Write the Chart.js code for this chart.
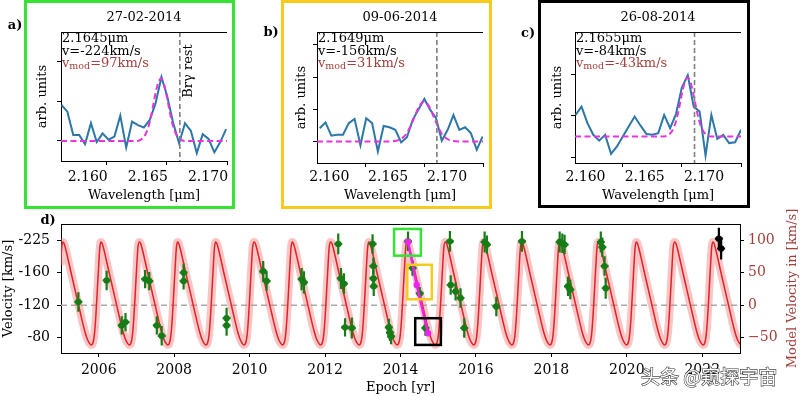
<!DOCTYPE html>
<html>
<head>
<meta charset="utf-8">
<script src="https://cdn.jsdelivr.net/npm/chart.js@4.4.0/dist/chart.umd.min.js"></script>
<style>
  body { margin: 0; background: #fff; }
  #wrap { position: relative; width: 800px; height: 396px; overflow: hidden; background: #fff; }
  #wrap canvas { position: absolute; left: 0; top: 0; }
  .frame { position: absolute; box-sizing: border-box; border: 3px solid; }
  #mark {
    position: absolute; left: 641px; top: 362px;
    font: 19px "Noto Sans CJK SC", sans-serif; color: #fff;
    -webkit-text-stroke: 1.2px #3a3a3a; paint-order: stroke fill; white-space: nowrap;
  }
</style>
</head>
<body>
<div id="wrap">
  <div class="frame" style="left:24px;top:0;width:211px;height:209px;border-color:#34e334"></div>
  <div class="frame" style="left:281px;top:0;width:211px;height:209px;border-color:#f6cb1c"></div>
  <div class="frame" style="left:538px;top:0;width:212px;height:208px;border-color:#000"></div>
  <canvas id="specA" width="800" height="396"></canvas>
  <canvas id="specB" width="800" height="396"></canvas>
  <canvas id="specC" width="800" height="396"></canvas>
  <canvas id="velD" width="800" height="396"></canvas>
  <div id="mark">头条 @窥探宇宙</div>
</div>
<script>
// ---------- spectra (panels a, b, c) ----------
const waveTicks = [2.160, 2.165, 2.170];
const brGamma = 2.16608;

const lamA = [2.15624, 2.15673, 2.15722, 2.15771, 2.15820, 2.15869, 2.15917, 2.15966, 2.16015, 2.16064, 2.16113, 2.16162, 2.16211, 2.16260, 2.16309, 2.16358, 2.16406, 2.16455, 2.16504, 2.16553, 2.16602, 2.16651, 2.16700, 2.16749, 2.16798, 2.16847, 2.16895, 2.16944, 2.16993];
const fluxA = [0.91, 0.74, 0.15, 0.15, -0.08, 0.45, -0.03, 0.19, 0.03, 0.11, 0.64, -0.17, 0.49, 0.40, 0.34, 0.53, 0.95, 1.62, 1.12, 0.45, -0.06, 0.45, 0.25, -0.31, 0.17, 0.05, -0.29, -0.03, 0.30];
const fitLamA = [2.1562, 2.1625, 2.1629, 2.1632, 2.1635, 2.1637, 2.1639, 2.1641, 2.1643, 2.1645, 2.1647, 2.1649, 2.1651, 2.1653, 2.1655, 2.1658, 2.1661, 2.1665, 2.1700];
const fitA = [0, 0, 0.045, 0.15, 0.39, 0.65, 0.96, 1.27, 1.49, 1.58, 1.49, 1.27, 0.96, 0.65, 0.39, 0.15, 0.045, 0, 0];

const lamB = [2.15613, 2.15662, 2.15712, 2.15761, 2.15811, 2.15860, 2.15909, 2.15959, 2.16008, 2.16058, 2.16107, 2.16156, 2.16206, 2.16255, 2.16305, 2.16354, 2.16403, 2.16453, 2.16502, 2.16552, 2.16601, 2.16650, 2.16700, 2.16749, 2.16799, 2.16848, 2.16897, 2.16947, 2.16996];
const fluxB = [0.41, 0.59, 0.18, 0.21, 0.21, 0.57, 0.70, -0.12, 0.72, 0.57, -0.31, 0.48, 0.44, 0.36, -0.03, 0.13, 0.67, 1.00, 1.32, 0.98, 0.72, 0.02, 0.36, 0.82, 0.36, 0.44, 0.26, -0.26, 0.15];
const fitLamB = [2.1559, 2.1620, 2.1626, 2.1631, 2.1635, 2.1638, 2.1641, 2.1644, 2.1647, 2.1650, 2.1653, 2.1656, 2.1659, 2.1662, 2.1665, 2.1669, 2.1674, 2.1680, 2.1700];
const fitB = [0, 0, 0.02, 0.09, 0.24, 0.44, 0.69, 0.955, 1.16, 1.24, 1.16, 0.955, 0.69, 0.44, 0.24, 0.09, 0.02, 0, 0];

const lamC = [2.15605, 2.15655, 2.15705, 2.15754, 2.15804, 2.15854, 2.15904, 2.15954, 2.16003, 2.16053, 2.16103, 2.16153, 2.16203, 2.16252, 2.16302, 2.16352, 2.16402, 2.16452, 2.16501, 2.16551, 2.16601, 2.16651, 2.16701, 2.16750, 2.16800, 2.16850, 2.16900, 2.16950, 2.17000];
const fluxC = [0.52, 0.72, 0.32, 0.04, -0.10, 0.04, -0.42, -0.24, 0.00, 0.24, 0.48, 0.26, 0.06, 0.04, 0.08, 0.52, 0.20, 0.54, 1.18, 1.48, 0.72, 0.60, -0.46, 0.52, -0.06, 0.04, -0.16, -0.14, 0.16];
const fitLamC = [2.1560, 2.1635, 2.1639, 2.1642, 2.1645, 2.1647, 2.1649, 2.1651, 2.1653, 2.1655, 2.1657, 2.1659, 2.1661, 2.1663, 2.1665, 2.1668, 2.1671, 2.1675, 2.1700];
const fitC = [0, 0, 0.04, 0.14, 0.35, 0.58, 0.86, 1.14, 1.34, 1.42, 1.34, 1.14, 0.86, 0.58, 0.35, 0.14, 0.04, 0, 0];

// ---------- velocity curve (panel d) ----------
const epochTicks = [2006, 2008, 2010, 2012, 2014, 2016, 2018, 2020, 2022];
const velTickPos = [-50, 0, 50, 100];
const velTickLabels = ['-80', '-120', '-160', '-225'];
const modelTickLabels = ['\u221250', '0', '50', '100'];

// one orbit of the model, time after maximum [yr] and velocity [km/s]
const cycleDt = [0, 0.03, 0.07, 0.12, 0.20, 0.28, 0.36, 0.44, 0.52, 0.58, 0.64, 0.70, 0.75, 0.79, 0.83, 0.87, 0.91, 0.95, 0.98];
const cycleVel = [97, 95, 87, 75, 54, 34, 14, -6, -26, -40, -51, -58, -61, -59, -48, -20, 20, 62, 89];
const peakEpochs = [2004.04, 2005.05, 2006.06, 2007.08, 2008.09, 2009.10, 2010.12, 2011.13, 2012.15, 2013.16, 2014.17, 2015.19, 2016.20, 2017.21, 2018.23, 2019.24, 2020.25, 2021.27, 2022.28];

const greenEpoch = [2005.46, 2006.21, 2006.61, 2006.71, 2007.23, 2007.34, 2007.54, 2007.67, 2008.25, 2008.25, 2009.39, 2009.39, 2010.36, 2010.45, 2011.38, 2011.44, 2012.35, 2012.42, 2012.50, 2012.53, 2012.71, 2013.26, 2013.28, 2013.28, 2013.29, 2013.69, 2013.72, 2013.75, 2014.20, 2014.32, 2014.51, 2014.66, 2015.31, 2015.33, 2015.46, 2015.59, 2015.69, 2016.23, 2016.29, 2016.54, 2017.22, 2018.22, 2018.29, 2018.35, 2018.44, 2018.50, 2019.31, 2019.35, 2019.41, 2019.44];
const greenVel = [5, 38, -31, -26, 40, 37, -31, -47, 50, 37, -20, -31, 52, 37, 40, 35, 94, 41, 33, -34, -35, 94, 60, 41, 29, -34, -42, -48, 98, 57, 18, -35, 98, 31, 21, 11, -35, 97, 93, -2, 98, 97, 95, 93, 29, 24, 97, 89, 60, 26];
const greenErr = [15, 15, 14, 14, 14, 14, 14, 15, 14, 13, 16, 16, 16, 15, 17, 17, 16, 16, 16, 14, 16, 15, 13, 13, 15, 13, 13, 12, 15, 12, 10, 12, 16, 15, 14, 15, 15, 16, 14, 15, 16, 16, 15, 15, 15, 15, 16, 15, 15, 16];
const blackEpoch = [2022.44, 2022.50];
const blackVel = [102, 87];
const blackErr = [17, 17];
const magEpoch = [2014.20, 2014.43, 2014.73];
const magVel = [97, 31, -43];

// highlight boxes around the three spectra epochs [epoch range, velocity range]
const boxEpochs = [[2013.83, 2014.54], [2014.18, 2014.83], [2014.39, 2015.07]];
const boxVels = [[76, 117], [9, 62], [-61, -20]];
const boxColors = ['#34e334', '#f6cb1c', '#000'];

const serif = '"DejaVu Serif", serif';
const brown = '#a0413c';

function put(ctx, s, x, y, opt = {}) {
  ctx.save();
  ctx.font = opt.font || `13px ${serif}`;
  ctx.fillStyle = opt.color || '#000';
  ctx.textAlign = opt.align || 'center';
  ctx.textBaseline = 'middle';
  ctx.translate(x, y);
  if (opt.rot) ctx.rotate(opt.rot);
  ctx.fillText(s, 0, 0);
  ctx.restore();
}

function vmod(ctx, x, y, rest) {
  ctx.save();
  ctx.fillStyle = brown;
  ctx.textAlign = 'left';
  ctx.textBaseline = 'middle';
  ctx.font = `13px ${serif}`;
  ctx.fillText('v', x, y);
  let w = ctx.measureText('v').width;
  ctx.font = `9.5px ${serif}`;
  ctx.fillText('mod', x + w, y + 3);
  w += ctx.measureText('mod').width;
  ctx.font = `13px ${serif}`;
  ctx.fillText(rest, x + w, y);
  ctx.restore();
}

const axisLine = { display: true, color: '#000', width: 1 };
const tickGrid = { drawOnChartArea: false, drawTicks: true, tickLength: 4, tickColor: '#000' };
const X_AXIS_H = 30;   // room kept under each plot for the tick labels
const Y_AXIS_W = 50;   // room kept beside panel d for its tick labels

function spectrum(id, p) {
  const [L, T, R, B] = p.area;
  return new Chart(document.getElementById(id), {
    type: 'line',
    data: {
      datasets: [
        {
          data: p.fitLam.map((x, i) => ({ x, y: p.fit[i] })),
          borderColor: '#e733e0', borderWidth: 2, borderDash: [6, 3.5],
          pointRadius: 0, cubicInterpolationMode: 'monotone'
        },
        {
          data: p.lam.map((x, i) => ({ x, y: p.flux[i] })),
          borderColor: '#2b77a6', borderWidth: 2, pointRadius: 0, tension: 0
        }
      ]
    },
    options: {
      responsive: false, animation: false, devicePixelRatio: 1,
      layout: { padding: { left: L, top: T, right: 800 - R, bottom: 396 - B - X_AXIS_H } },
      plugins: { legend: { display: false }, tooltip: { enabled: false } },
      scales: {
        x: {
          type: 'linear', min: p.xmin, max: 2.170,
          afterFit: s => { s.height = X_AXIS_H; },
          afterBuildTicks: s => { s.ticks = waveTicks.map(v => ({ value: v })); },
          border: axisLine, grid: tickGrid,
          ticks: {
            color: '#000', font: { family: serif, size: 14 }, padding: p.tickPad,
            labelOffset: p.labelOffset, maxRotation: 0, autoSkip: false,
            callback: v => v.toFixed(3)
          }
        },
        y: {
          type: 'linear', min: p.ymin, max: p.ymax,
          afterFit: s => { s.width = 0; },
          afterBuildTicks: s => { s.ticks = p.yTicks.map(v => ({ value: v })); },
          border: axisLine, grid: tickGrid,
          ticks: { display: false }
        }
      }
    },
    plugins: [{
      id: 'decor',
      afterDatasetsDraw(chart) {
        const { ctx, chartArea: a } = chart;
        const x = chart.scales.x.getPixelForValue(brGamma);
        ctx.save();
        ctx.strokeStyle = '#7f7f7f';
        ctx.lineWidth = 1.6;
        ctx.setLineDash([5, 3]);
        ctx.beginPath();
        ctx.moveTo(x, a.top);
        ctx.lineTo(x, a.bottom);
        ctx.stroke();
        ctx.restore();
      },
      afterDraw(chart) {
        const { ctx, chartArea: a } = chart;
        ctx.save();
        ctx.strokeStyle = '#000';
        ctx.lineWidth = 1;
        ctx.beginPath();
        ctx.moveTo(a.left, a.top + 0.5);
        ctx.lineTo(a.right, a.top + 0.5);
        ctx.stroke();
        ctx.restore();
        const cx = (a.left + a.right) / 2;
        put(ctx, p.title, cx, 18);
        put(ctx, p.letter, p.letterXY[0], p.letterXY[1], { font: `bold 13px ${serif}` });
        put(ctx, 'Wavelength [\u03bcm]', cx, 196);
        put(ctx, 'arb. units', p.ylabelX, (a.top + a.bottom) / 2, { rot: -Math.PI / 2 });
        put(ctx, p.line1, a.left + 1, a.top + 7, { align: 'left' });
        put(ctx, p.line2, a.left + 1, a.top + 20, { align: 'left' });
        vmod(ctx, a.left + 1, a.top + 32, p.line3);
        if (p.restLabel) {
          const x = chart.scales.x.getPixelForValue(brGamma);
          put(ctx, 'Br\u03b3 rest', x + 9, 71, { rot: -Math.PI / 2 });
        }
      }
    }]
  });
}

spectrum('specA', {
  area: [61, 32, 227, 161], xmin: 2.1562, ymin: -0.51, ymax: 2.76, yTicks: [0, 1, 2],
  lam: lamA, flux: fluxA, fitLam: fitLamA, fit: fitA, tickPad: 4, labelOffset: -19,
  title: '27-02-2014', letter: 'a)', letterXY: [15, 26], ylabelX: 43, restLabel: true,
  line1: '2.1645\u03bcm', line2: 'v=-224km/s', line3: '=97km/s'
});
spectrum('specB', {
  area: [317, 32, 483, 163], xmin: 2.1559, ymin: -0.67, ymax: 3.40, yTicks: [0, 1, 2, 3],
  lam: lamB, flux: fluxB, fitLam: fitLamB, fit: fitB, tickPad: 2, labelOffset: -36,
  title: '09-06-2014', letter: 'b)', letterXY: [271, 33], ylabelX: 302, restLabel: false,
  line1: '2.1649\u03bcm', line2: 'v=-156km/s', line3: '=31km/s'
});
spectrum('specC', {
  area: [575, 32, 741, 163], xmin: 2.1560, ymin: -0.64, ymax: 2.52, yTicks: [-0.5, 0.5, 1.5],
  lam: lamC, flux: fluxC, fitLam: fitLamC, fit: fitC, tickPad: 2, labelOffset: -37,
  title: '26-08-2014', letter: 'c)', letterXY: [528, 34], ylabelX: 558, restLabel: false,
  line1: '2.1655\u03bcm', line2: 'v=-84km/s', line3: '=-43km/s'
});

// ---------- panel d ----------
const modelPts = [];
peakEpochs.forEach(t0 => cycleDt.forEach((dt, i) => modelPts.push({ x: t0 + dt, y: cycleVel[i] })));
const greenPts = greenEpoch.map((x, i) => ({ x, y: greenVel[i] }));
const blackPts = blackEpoch.map((x, i) => ({ x, y: blackVel[i] }));
const magPts = magEpoch.map((x, i) => ({ x, y: magVel[i] }));

const errorBars = {
  id: 'errorBars',
  beforeDatasetDraw(chart, args) {
    const ds = chart.data.datasets[args.index];
    if (!ds.err) return;
    const y = chart.scales.y;
    const ctx = chart.ctx;
    ctx.save();
    ctx.strokeStyle = ds.pointBackgroundColor;
    ctx.lineWidth = 2.2;
    args.meta.data.forEach((el, i) => {
      const v = ds.data[i].y;
      ctx.beginPath();
      ctx.moveTo(el.x, y.getPixelForValue(v + ds.err[i]));
      ctx.lineTo(el.x, y.getPixelForValue(v - ds.err[i]));
      ctx.moveTo(el.x - 4, el.y);
      ctx.lineTo(el.x + 4, el.y);
      ctx.stroke();
    });
    ctx.restore();
  }
};

new Chart(document.getElementById('velD'), {
  type: 'line',
  data: {
    datasets: [
      { data: blackPts, showLine: false, pointRadius: 3.2, pointBorderWidth: 0, pointBackgroundColor: '#000', err: blackErr },
      { data: magPts, borderColor: '#ee22ee', borderWidth: 2.5, pointRadius: 3.2, pointBorderWidth: 0, pointBackgroundColor: '#ee22ee' },
      { data: greenPts, showLine: false, pointRadius: 3.2, pointBorderWidth: 0, pointBackgroundColor: '#167d16', err: greenErr },
      { data: modelPts, borderColor: '#e02328', borderWidth: 1.5, pointRadius: 0, cubicInterpolationMode: 'monotone', clip: 0 },
      { data: modelPts, borderColor: 'rgba(240,110,110,0.4)', borderWidth: 8, pointRadius: 0, cubicInterpolationMode: 'monotone', clip: 0 },
      { data: [{ x: 2005, y: 0 }, { x: 2023, y: 0 }], borderColor: '#aaaaaa', borderWidth: 1.6, borderDash: [6, 4], pointRadius: 0 }
    ]
  },
  options: {
    responsive: false, animation: false, devicePixelRatio: 1,
    layout: { padding: { left: 61 - Y_AXIS_W, top: 224, right: 60 - Y_AXIS_W, bottom: 43 - X_AXIS_H } },
    plugins: { legend: { display: false }, tooltip: { enabled: false } },
    scales: {
      x: {
        type: 'linear', min: 2005, max: 2023,
        afterFit: s => { s.height = X_AXIS_H; },
        afterBuildTicks: s => { s.ticks = epochTicks.map(v => ({ value: v })); },
        border: axisLine, grid: tickGrid,
        ticks: { color: '#000', font: { family: serif, size: 14 }, padding: 4.5, maxRotation: 0, autoSkip: false, callback: v => String(v) }
      },
      y: {
        type: 'linear', position: 'left', min: -73.4, max: 124.6,
        afterFit: s => { s.width = Y_AXIS_W; },
        afterBuildTicks: s => { s.ticks = velTickPos.map(v => ({ value: v })); },
        border: axisLine, grid: tickGrid,
        ticks: { color: '#000', font: { family: serif, size: 14 }, padding: 7, callback: v => velTickLabels[velTickPos.indexOf(v)] }
      },
      y2: {
        type: 'linear', position: 'right', min: -73.4, max: 124.6,
        afterFit: s => { s.width = Y_AXIS_W; },
        afterBuildTicks: s => { s.ticks = velTickPos.map(v => ({ value: v })); },
        border: axisLine, grid: tickGrid,
        ticks: { color: brown, font: { family: serif, size: 14 }, padding: 4, callback: v => modelTickLabels[velTickPos.indexOf(v)] }
      }
    }
  },
  plugins: [errorBars, {
    id: 'decorD',
    afterDatasetsDraw(chart) {
      const { ctx, scales: { x, y } } = chart;
      ctx.save();
      ctx.lineWidth = 2.5;
      boxEpochs.forEach((e, i) => {
        const x1 = x.getPixelForValue(e[0]), x2 = x.getPixelForValue(e[1]);
        const y1 = y.getPixelForValue(boxVels[i][1]), y2 = y.getPixelForValue(boxVels[i][0]);
        ctx.strokeStyle = boxColors[i];
        ctx.strokeRect(x1, y1, x2 - x1, y2 - y1);
      });
      ctx.restore();
    },
    afterDraw(chart) {
      const { ctx, chartArea: a } = chart;
      ctx.save();
      ctx.strokeStyle = '#000';
      ctx.lineWidth = 1;
      ctx.beginPath();
      ctx.moveTo(a.left, a.top + 0.5);
      ctx.lineTo(a.right, a.top + 0.5);
      ctx.stroke();
      ctx.restore();
      const cy = (a.top + a.bottom) / 2;
      put(ctx, 'd)', 48, 221, { font: `bold 13px ${serif}` });
      put(ctx, 'Velocity [km/s]', 9, cy, { rot: -Math.PI / 2 });
      put(ctx, 'Model Velocity in [km/s]', 793, cy, { rot: -Math.PI / 2, color: brown });
      put(ctx, 'Epoch [yr]', (a.left + a.right) / 2, 388);
    }
  }]
});
</script>
</body>
</html>
